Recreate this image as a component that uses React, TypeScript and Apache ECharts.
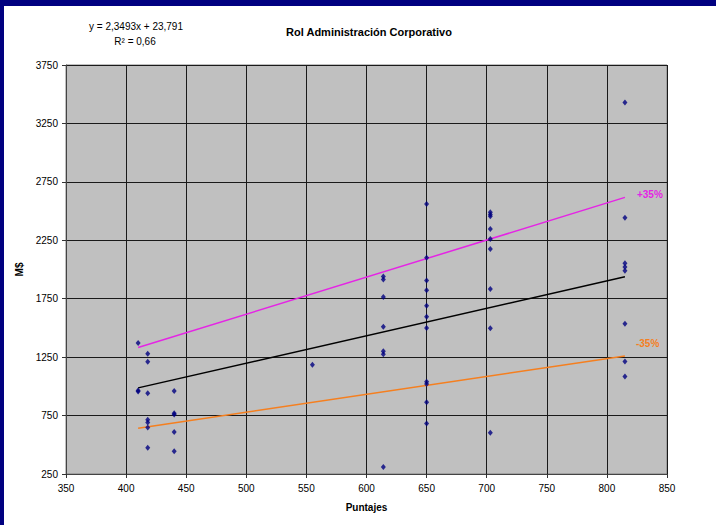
import React, { useEffect, useRef } from "react";
import * as echarts from "echarts";

// Scatter points: Puntajes (x) and M$ (y)
const pointsX = [
  410, 410, 410,
  418, 418, 418, 418, 418, 418, 418,
  440, 440, 440, 440, 440,
  555,
  614, 614, 614, 614, 614, 614, 614,
  650, 650, 650, 650, 650, 650, 650, 650, 650, 650, 650,
  703, 703, 703, 703, 703, 703, 703, 703, 703,
  815, 815, 815, 815, 815, 815, 815, 815,
];
const pointsY = [
  1370, 965, 955,
  1280, 1210, 940, 715, 690, 648, 475,
  960, 770, 760, 610, 445,
  1185,
  1940, 1915, 1765, 1510, 1300, 1275, 310,
  2560, 2100, 1905, 1823, 1690, 1595, 1500, 1040, 1020, 865, 682,
  2490, 2470, 2455, 2347, 2260, 2176, 1834, 1498, 603,
  3430, 2443, 2053, 2022, 1990, 1535, 1212, 1084,
];

// Trend line and +/-35% band (endpoints)
const trendX = [410, 815];
const trendY = [987, 1938];
const upperY = [1332, 2617];
const lowerY = [642, 1260];

const xTicks = { min: 350, max: 850, step: 50 };
const yTicks = { min: 250, max: 3750, step: 500 };

const TITLE = "Rol Administración Corporativo";
const EQUATION = "y = 2,3493x + 23,791";
const R2 = "R² = 0,66";
const X_NAME = "Puntajes";
const Y_NAME = "M$";
const UPPER_LABEL = "+35%";
const LOWER_LABEL = "-35%";

const FONT = "'Liberation Sans', Arial, sans-serif";

export default function App() {
  const ref = useRef<HTMLDivElement>(null);

  useEffect(() => {
    const chart = echarts.init(ref.current!, null, { renderer: "svg" });
    const pts = pointsX.map((x, i) => [x, pointsY[i]]);
    const pair = (ys: number[]) => trendX.map((x, i) => [x, ys[i]]);

    const axisCommon = {
      type: "value" as const,
      axisLine: { show: true, onZero: false, lineStyle: { color: "#444", width: 1 } },
      axisTick: { show: true, inside: false, length: 4, lineStyle: { color: "#333" } },
      splitLine: { show: true, lineStyle: { color: "#1a1a1a", width: 1 } },
      nameLocation: "middle" as const,
      nameTextStyle: { fontFamily: FONT, fontWeight: "bold", fontSize: 10, color: "#000" },
    };

    chart.setOption({
      animation: false,
      backgroundColor: "#ffffff",
      textStyle: { fontFamily: FONT },
      title: {
        text: TITLE,
        left: 364,
        top: 21,
        textAlign: "center",
        textStyle: { fontFamily: FONT, fontSize: 11, fontWeight: "bold", color: "#000" },
      },
      graphic: [
        { type: "rect", shape: { x: 0, y: 0, width: 716, height: 6 }, style: { fill: "#000080" }, z: 100 },
        { type: "rect", shape: { x: 0, y: 0, width: 4, height: 525 }, style: { fill: "#000080" }, z: 100 },
        {
          type: "text", x: 136, y: 26,
          style: { text: EQUATION, align: "center", verticalAlign: "middle", font: `10px ${FONT}`, fill: "#000" },
        },
        {
          type: "text", x: 135, y: 41,
          style: { text: R2, align: "center", verticalAlign: "middle", font: `10px ${FONT}`, fill: "#000" },
        },
      ],
      grid: {
        left: 66, right: 49, top: 65, bottom: 51,
        show: true, backgroundColor: "#c0c0c0", borderColor: "#808080", borderWidth: 1,
      },
      xAxis: {
        ...axisCommon,
        min: xTicks.min, max: xTicks.max, interval: xTicks.step,
        name: X_NAME, nameGap: 28,
        axisLabel: { margin: 9, fontSize: 10, color: "#000", fontFamily: FONT, formatter: (v: number) => String(v) },
      },
      yAxis: {
        ...axisCommon,
        min: yTicks.min, max: yTicks.max, interval: yTicks.step,
        name: Y_NAME, nameGap: 37,
        axisLabel: { margin: 8, fontSize: 10, color: "#000", fontFamily: FONT, formatter: (v: number) => String(v) },
      },
      series: [
        {
          type: "line", data: pair(trendY), showSymbol: false, symbol: "none",
          lineStyle: { color: "#000", width: 1.5 }, silent: true,
        },
        {
          type: "line", data: pair(upperY), showSymbol: false, symbol: "none",
          lineStyle: { color: "#e524e5", width: 1.5 }, silent: true,
          endLabel: {
            show: true, formatter: UPPER_LABEL, offset: [4, -3],
            color: "#e524e5", fontWeight: "bold", fontSize: 10, fontFamily: FONT,
          },
        },
        {
          type: "line", data: pair(lowerY), showSymbol: false, symbol: "none",
          lineStyle: { color: "#f57f1f", width: 1.5 }, silent: true,
          endLabel: {
            show: true, formatter: LOWER_LABEL, offset: [3, -12],
            color: "#f57f1f", fontWeight: "bold", fontSize: 10, fontFamily: FONT,
          },
        },
        {
          type: "scatter", data: pts, symbol: "diamond", symbolSize: [5, 6],
          itemStyle: { color: "#000080" }, z: 5,
        },
      ],
    });
    return () => chart.dispose();
  }, []);

  return (
    <div
      ref={ref}
      style={{ position: "fixed", left: 0, top: 0, width: 716, height: 525, background: "#fff" }}
    />
  );
}
